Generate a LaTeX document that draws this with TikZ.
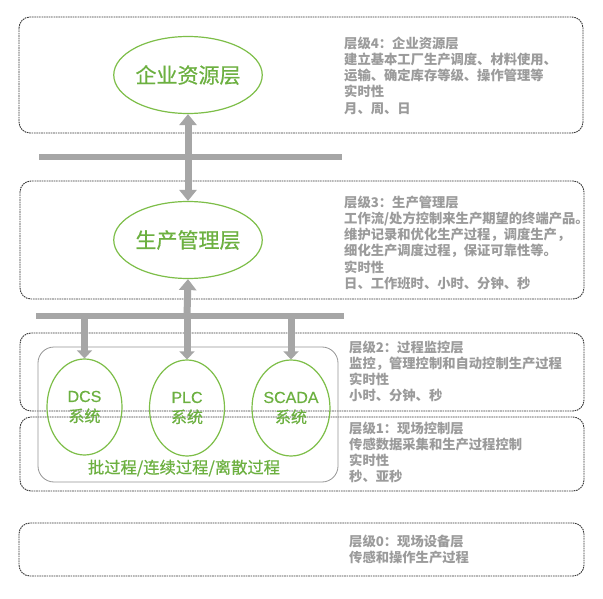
\documentclass[tikz,border=0pt]{standalone}
\usepackage{fontspec}
\setmainfont{Noto Sans CJK SC}
\newfontfamily\gfont{Noto Sans CJK SC}[FakeBold=0.6]
\newfontfamily\lfont{Liberation Sans}[FakeBold=0.4]
\usetikzlibrary{shapes.geometric,arrows.meta}
\definecolor{egreen}{RGB}{125,190,72}
\definecolor{tgreen}{RGB}{108,176,64}
\definecolor{tgray}{RGB}{155,155,155}
\definecolor{agray}{RGB}{166,166,166}
\definecolor{dgray}{RGB}{55,55,55}
\definecolor{bgray}{RGB}{150,150,150}
\tikzset{
  layerbox/.style={draw=dgray,line width=0.9pt,dash pattern=on 1.6pt off 0.8pt,rounded corners=11pt},
  innerbox/.style={draw=bgray,line width=0.8pt,rounded corners=16pt},
  bigell/.style={ellipse,draw=egreen,line width=1.2pt,minimum width=148pt,minimum height=77pt,inner sep=0pt,text=tgreen,font=\gfont\fontsize{21}{24}\selectfont},
  smallell/.style={ellipse,draw=egreen,line width=1.2pt,minimum width=75pt,minimum height=96pt,inner sep=0pt,text=tgreen,align=center,font=\gfont\fontsize{16}{20}\selectfont},
  desc/.style={anchor=north west,inner sep=0pt,align=left,text=tgray,font=\fontsize{13.3}{16.2}\selectfont\bfseries},
  bus/.style={draw=agray,line width=6pt},
  bigarrow/.style={draw=agray,line width=7pt,-{Triangle[width=17pt,length=11pt]}},
  dblarrow/.style={draw=agray,line width=7pt,{Triangle[width=17pt,length=11pt]}-{Triangle[width=17pt,length=11pt]}},
  downarrow/.style={draw=agray,line width=7pt,-{Triangle[width=15pt,length=8pt]}},
}
\begin{document}
\begin{tikzpicture}[x=1pt,y=-1pt]
\useasboundingbox (0,0) rectangle (603,599);
\fill[white] (0,0) rectangle (603,599);
% layer boxes
\draw[layerbox] (19,17) rectangle (583,133);
\draw[layerbox] (20,181) rectangle (584,299);
\draw[layerbox] (20,333) rectangle (584,411);
\draw[layerbox] (20,417) rectangle (584,491);
\draw[layerbox] (19,523) rectangle (584,576);
% inner box
\draw[innerbox] (38,347) rectangle (338,482);
% ellipses
\node[bigell] (e4) at (188,75) {企业资源层};
\node[bigell] (e3) at (188,240) {生产管理层};
\node[smallell] (dcs) at (84.5,407) {{\lfont DCS}\\系统};
\node[smallell] (plc) at (187,408) {{\lfont PLC}\\系统};
\node[smallell] (scada) at (291,408) {{\lfont SCADA}\\系统};
\node[text=tgreen,font=\gfont\fontsize{16.3}{20}\selectfont,inner sep=0pt] (proc) at (184,468) {批过程/连续过程/离散过程};
% buses
\coordinate (b1l) at (39,157);
\coordinate (b1r) at (342,157);
\coordinate (b2l) at (36,316);
\coordinate (b2r) at (344,316);
\coordinate (b2c) at (187,316);
\draw[bus] (b1l) -- (b1r);
\draw[bus] (b2l) -- (b2r);
% arrows
\draw[dblarrow] (e4.south) -- (e3.north);
\draw[bigarrow] (b2c) -- (e3.south);
\draw[downarrow] (dcs.north |- b2l) -- (dcs.north);
\draw[downarrow] (plc.north |- b2l) -- (plc.north);
\draw[downarrow] (scada.north |- b2l) -- (scada.north);
% descriptions
\node[desc] (d4) at (344,36.5) {层级4：企业资源层\\建立基本工厂生产调度、材料使用、\\运输、确定库存等级、操作管理等\\实时性\\月、周、日};
\node[desc] (d3) at (344,195.5) {层级3：生产管理层\\工作流/处方控制来生产期望的终端产品。\\维护记录和优化生产过程，调度生产，\\细化生产调度过程，保证可靠性等。\\实时性\\日、工作班时、小时、分钟、秒};
\node[desc] (d2) at (349,340.5) {层级2：过程监控层\\监控，管理控制和自动控制生产过程\\实时性\\小时、分钟、秒};
\node[desc] (d1) at (349,421.5) {层级1：现场控制层\\传感数据采集和生产过程控制\\实时性\\秒、亚秒};
\node[desc] (d0) at (349,534.5) {层级0：现场设备层\\传感和操作生产过程};
\end{tikzpicture}
\end{document}
